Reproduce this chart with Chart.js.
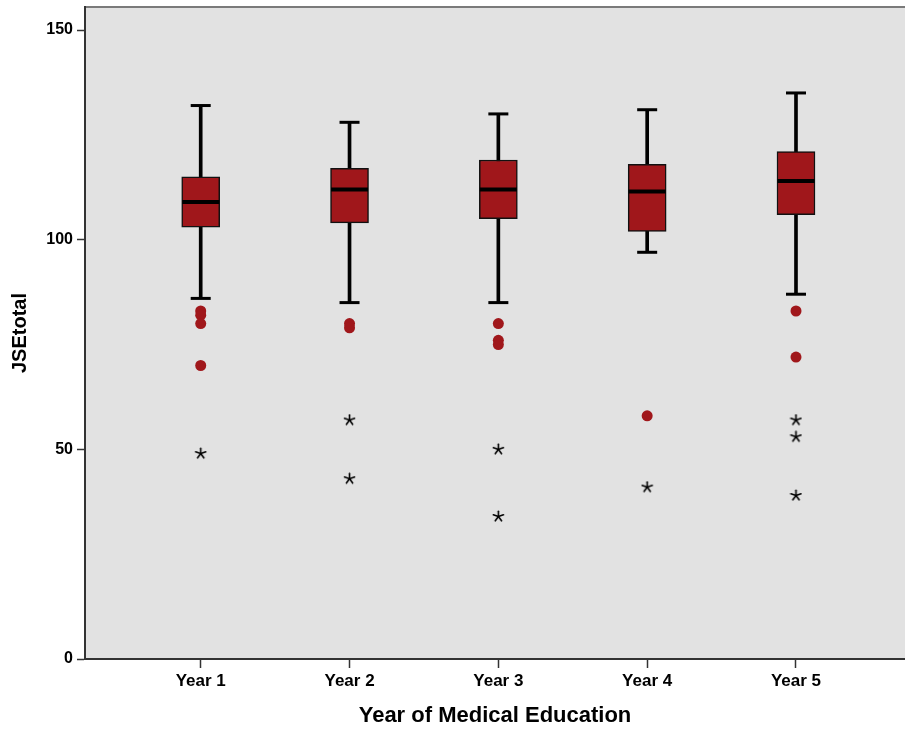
<!DOCTYPE html>
<html>
<head>
<meta charset="utf-8">
<script src="https://cdn.jsdelivr.net/npm/chart.js@4.4.1/dist/chart.umd.min.js"></script>
<style>
  html, body { margin: 0; padding: 0; background: #ffffff; }
  #wrap { width: 905px; height: 729px; }
</style>
</head>
<body>
<div id="wrap"><canvas id="c" width="905" height="729"></canvas></div>
<script>
// ---- Data ----
const categories   = ['Year 1', 'Year 2', 'Year 3', 'Year 4', 'Year 5'];
const whiskerLow   = [86, 85, 85, 97, 87];
const q1           = [103, 104, 105, 102, 106];
const median       = [109, 112, 112, 111.5, 114];
const q3           = [115, 117, 119, 118, 121];
const whiskerHigh  = [132, 128, 130, 131, 135];
const outliers     = [[83, 82, 80, 70], [80, 79], [80, 76, 75], [58], [83, 72]];
const extremes     = [[49], [57, 43], [50, 34], [41], [57, 53, 39]];
const yTickValues  = [0, 50, 100, 150];
const xTitle = 'Year of Medical Education';
const yTitle = 'JSEtotal';

// ---- Styles ----
const RED = '#a0171b';
const FONT = "'Liberation Sans', Arial, sans-serif";

// asterisk marker for extreme values
const star = document.createElement('canvas');
star.width = 13; star.height = 13;
(function () {
  const g = star.getContext('2d');
  g.strokeStyle = '#000';
  g.lineWidth = 1.6;
  g.lineCap = 'round';
  for (let k = 0; k < 5; k++) {
    const a = -Math.PI / 2 + k * 2 * Math.PI / 5;
    g.beginPath();
    g.moveTo(6.5, 6.5);
    g.lineTo(6.5 + 5.3 * Math.cos(a), 6.5 + 5.3 * Math.sin(a));
    g.stroke();
  }
})();

const pos = categories.map((_, i) => i + 1);

const whiskerData = pos.map((x, i) => ({ x, y: [whiskerLow[i], whiskerHigh[i]] }));
const boxData = pos.map((x, i) => ({ x, y: [q1[i], q3[i]] }));
const capData = [];
pos.forEach((x, i) => { capData.push({ x, y: whiskerLow[i] }); capData.push({ x, y: whiskerHigh[i] }); });
const medianData = pos.map((x, i) => ({ x, y: median[i] }));
const outlierData = [];
outliers.forEach((arr, i) => arr.forEach(v => outlierData.push({ x: pos[i], y: v })));
const extremeData = [];
extremes.forEach((arr, i) => arr.forEach(v => extremeData.push({ x: pos[i], y: v })));

const bgPlugin = {
  id: 'plotBg',
  beforeDraw(chart) {
    const { ctx, chartArea: a } = chart;
    ctx.save();
    ctx.fillStyle = '#e2e2e2';
    ctx.fillRect(a.left, a.top, a.right - a.left, a.bottom - a.top);
    ctx.strokeStyle = '#7a7a7a';
    ctx.lineWidth = 2;
    ctx.beginPath();
    ctx.moveTo(a.left, a.top);
    ctx.lineTo(a.right, a.top);
    ctx.stroke();
    ctx.restore();
  }
};

function noPad(s) {
  s.paddingLeft = 0; s.paddingRight = 0; s.paddingTop = 0; s.paddingBottom = 0;
}

new Chart(document.getElementById('c'), {
  type: 'bar',
  data: {
    datasets: [
      { type: 'bar', data: whiskerData, backgroundColor: '#000', barThickness: 3, grouped: false, order: 5 },
      { type: 'bar', data: boxData, backgroundColor: RED, borderColor: '#111', borderWidth: 1.5,
        borderSkipped: false, barThickness: 38, grouped: false, order: 4 },
      { type: 'scatter', data: capData, pointStyle: 'line', pointRadius: 10, borderColor: '#000',
        borderWidth: 3, order: 3 },
      { type: 'scatter', data: medianData, pointStyle: 'line', pointRadius: 18.5, borderColor: '#000',
        borderWidth: 4, order: 2 },
      { type: 'scatter', data: outlierData, pointStyle: 'circle', pointRadius: 5.5, backgroundColor: RED,
        borderWidth: 0, order: 1 },
      { type: 'scatter', data: extremeData, pointStyle: star, pointRadius: 6, order: 0 }
    ]
  },
  options: {
    responsive: false,
    animation: false,
    events: [],
    layout: { autoPadding: false, padding: { top: 7, right: 0, left: 0, bottom: 0 } },
    plugins: { legend: { display: false }, tooltip: { enabled: false } },
    scales: {
      x: {
        type: 'linear',
        offset: false,
        min: 0.2225,
        max: 5.7325,
        afterBuildTicks(s) { s.ticks = pos.map(v => ({ value: v })); },
        afterFit(s) { s.height = 70; noPad(s); },
        ticks: {
          autoSkip: false,
          maxRotation: 0,
          padding: 3,
          color: '#000',
          font: { family: FONT, size: 17, weight: 'bold' },
          callback: v => categories[v - 1]
        },
        grid: { offset: false, drawOnChartArea: false, drawTicks: true, tickLength: 9, tickColor: '#333', tickWidth: 1.5 },
        border: { display: true, color: '#333', width: 2 },
        title: { display: true, text: xTitle, color: '#000', padding: { top: 0, bottom: 0 },
                 font: { family: FONT, size: 22, weight: 'bold' } }
      },
      y: {
        type: 'linear',
        min: 0,
        max: 155.5,
        afterBuildTicks(s) { s.ticks = yTickValues.map(v => ({ value: v })); },
        afterFit(s) { s.width = 85; noPad(s); },
        ticks: {
          padding: 4,
          color: '#000',
          font: { family: FONT, size: 16, weight: 'bold' }
        },
        grid: { drawOnChartArea: false, drawTicks: true, tickLength: 8, tickColor: '#333', tickWidth: 1.5 },
        border: { display: true, color: '#333', width: 2 },
        title: { display: true, text: yTitle, color: '#000', padding: { top: 8, bottom: 0 },
                 font: { family: FONT, size: 20, weight: 'bold' } }
      }
    }
  },
  plugins: [bgPlugin]
});
</script>
</body>
</html>
